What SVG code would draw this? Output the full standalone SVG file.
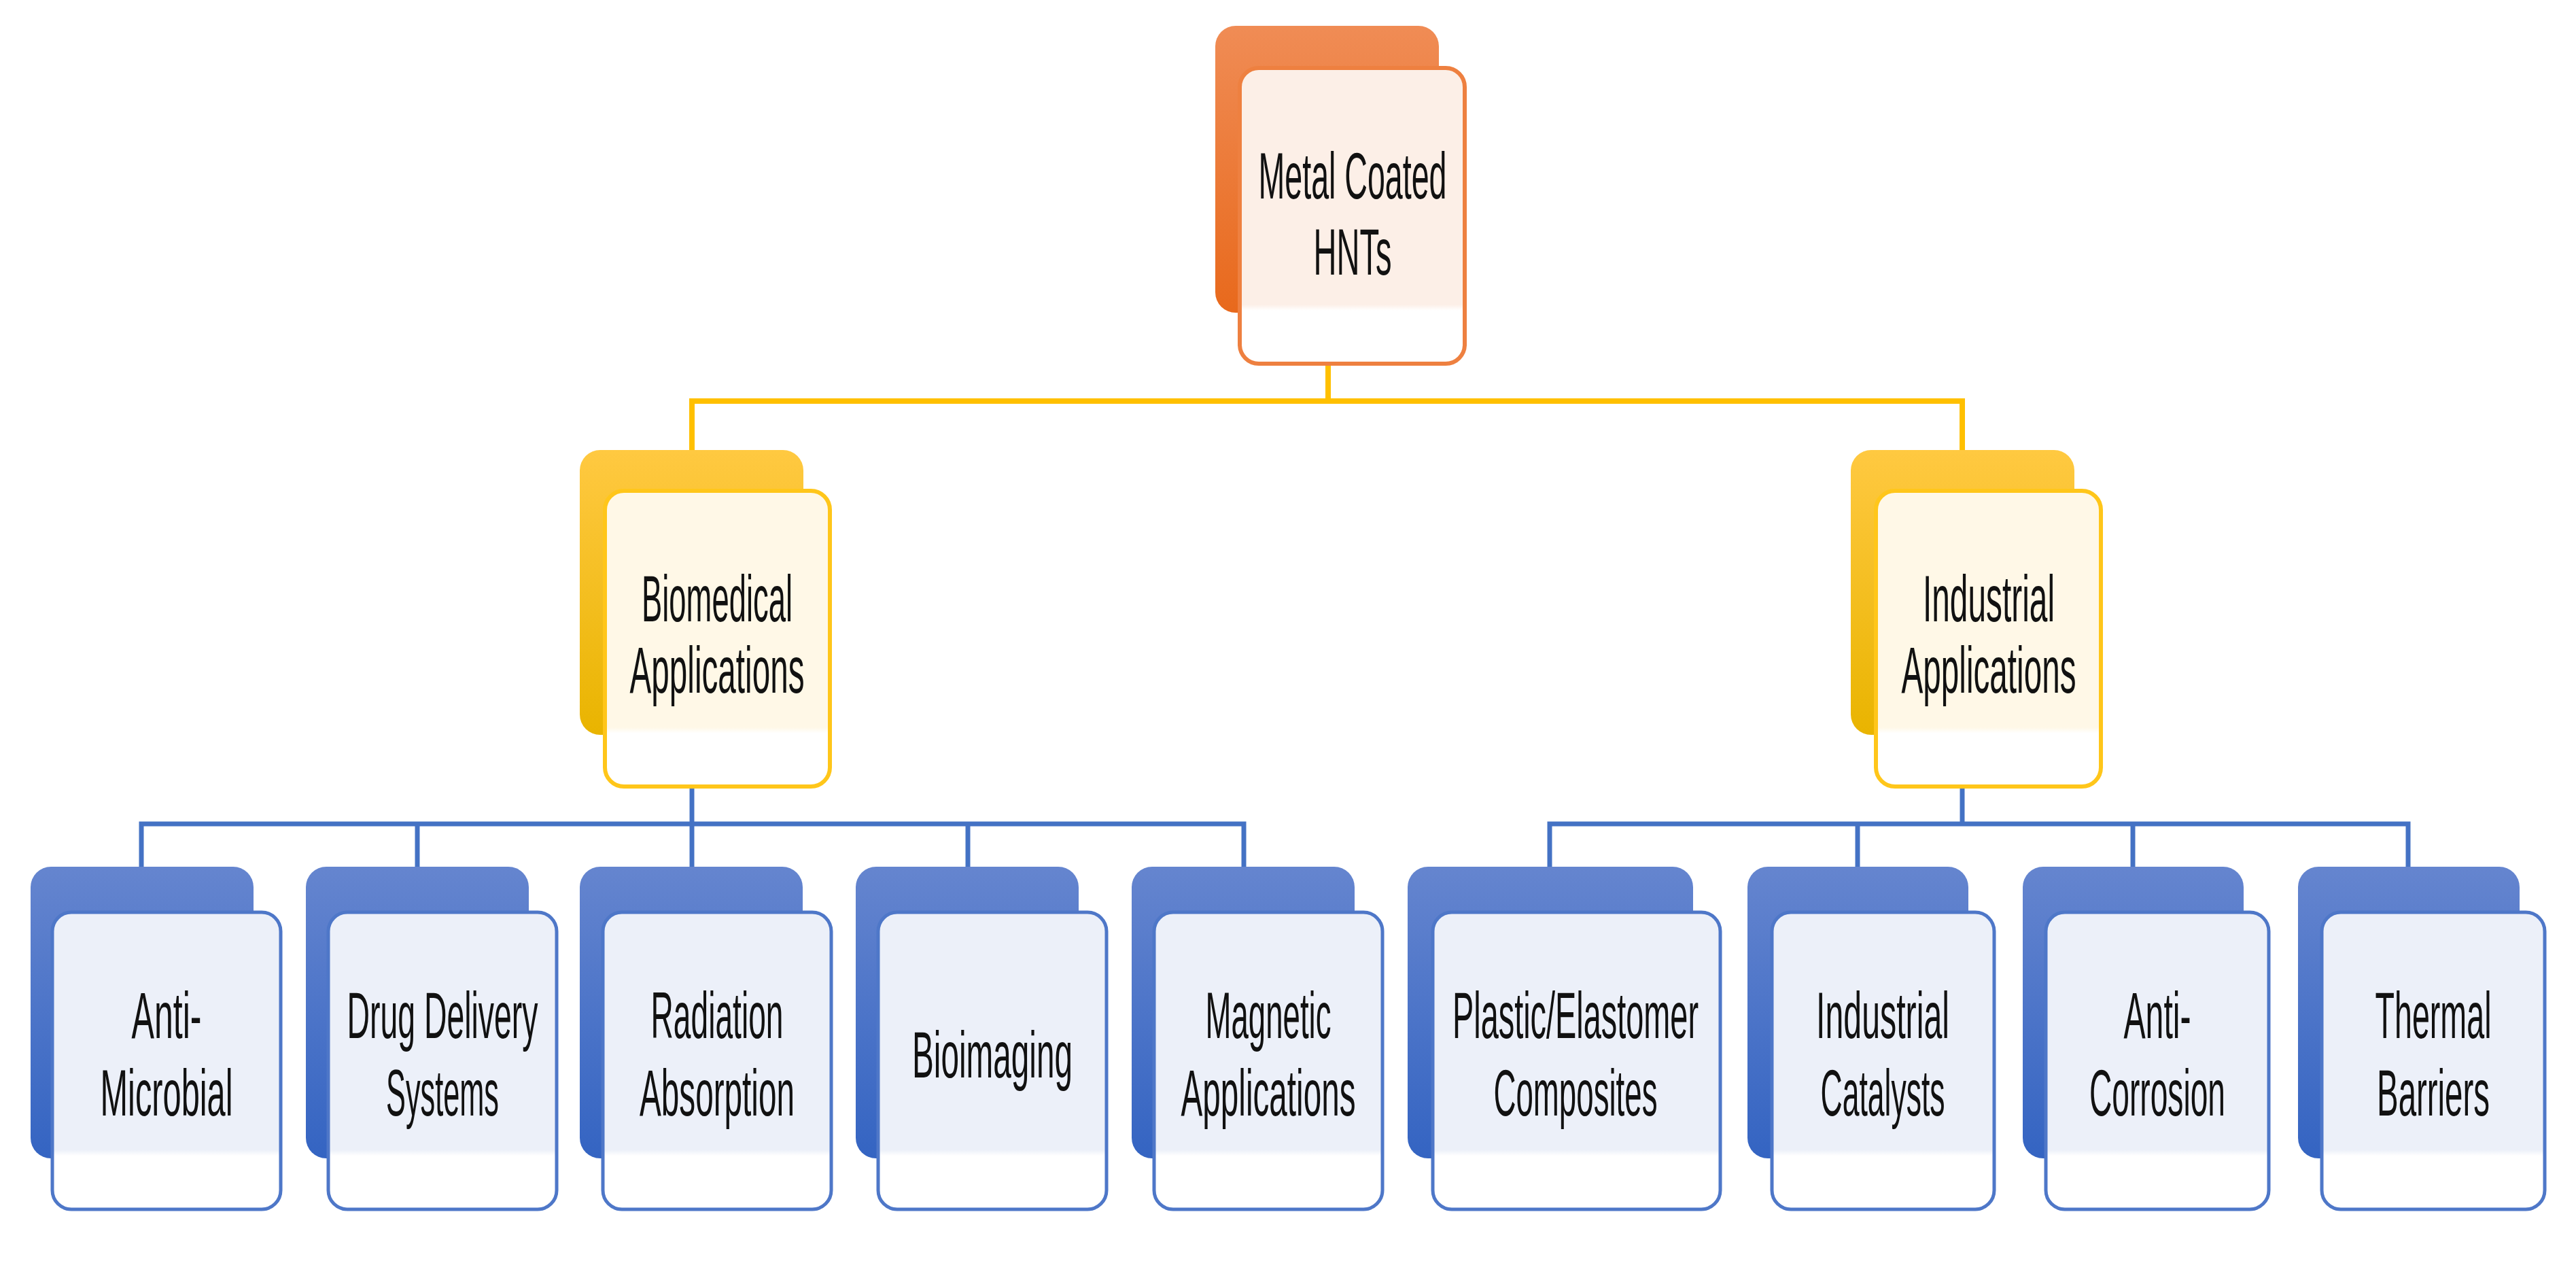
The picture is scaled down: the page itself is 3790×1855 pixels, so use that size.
<svg xmlns="http://www.w3.org/2000/svg" width="3790" height="1855" viewBox="0 0 3790 1855">
<defs>
<linearGradient id="gO" x1="0" y1="0" x2="0" y2="1"><stop offset="0" stop-color="#F08C55"/><stop offset="1" stop-color="#E8691C"/></linearGradient>
<linearGradient id="gY" x1="0" y1="0" x2="0" y2="1"><stop offset="0" stop-color="#FFC941"/><stop offset="1" stop-color="#E9B400"/></linearGradient>
<linearGradient id="gB" x1="0" y1="0" x2="0" y2="1"><stop offset="0" stop-color="#6585CF"/><stop offset="1" stop-color="#3464C2"/></linearGradient>
<linearGradient id="fO" x1="0" y1="0" x2="0" y2="1"><stop offset="0" stop-color="#FCEFE7"/><stop offset="0.8" stop-color="#FCEFE7"/><stop offset="0.82" stop-color="#FFFFFF"/></linearGradient>
<linearGradient id="fY" x1="0" y1="0" x2="0" y2="1"><stop offset="0" stop-color="#FFF8E7"/><stop offset="0.8" stop-color="#FFF8E7"/><stop offset="0.82" stop-color="#FFFFFF"/></linearGradient>
<linearGradient id="fB" x1="0" y1="0" x2="0" y2="1"><stop offset="0" stop-color="#ECF0F9"/><stop offset="0.8" stop-color="#ECF0F9"/><stop offset="0.82" stop-color="#FFFFFF"/></linearGradient>
</defs>
<style>
.bo{fill:url(#gO)} .by{fill:url(#gY)} .bb{fill:url(#gB)}
.fo{fill:url(#fO);stroke:#EE8040;stroke-width:6}
.fy{fill:url(#fY);stroke:#FFC61A;stroke-width:6}
.fb{fill:url(#fB);stroke:#4E77C8;stroke-width:5}
text{font-family:"Liberation Sans",Arial,sans-serif;font-size:96px;fill:#111;text-anchor:middle}
.cy{stroke:#FFC000;stroke-width:8;fill:none}
.cb{stroke:#4472C4;stroke-width:7;fill:none}
</style>
<g id="connectors">
<polyline class="cy" points="1954,535 1954,590"/>
<polyline class="cy" points="1018,662 1018,590 2887,590 2887,662"/>
<polyline class="cb" points="1018,1157 1018,1212"/>
<polyline class="cb" points="208,1275 208,1212 1830,1212 1830,1275"/>
<polyline class="cb" points="614,1212 614,1275"/>
<polyline class="cb" points="1424,1212 1424,1275"/>
<polyline class="cb" points="1018,1212 1018,1275"/>
<polyline class="cb" points="2887,1157 2887,1212"/>
<polyline class="cb" points="2280,1275 2280,1212 3543,1212 3543,1275"/>
<polyline class="cb" points="2733,1212 2733,1275"/>
<polyline class="cb" points="3138,1212 3138,1275"/>
</g>
<g id="root">
<rect class="bo" x="1788" y="38" width="329" height="422" rx="30"/>
<rect class="fo" x="1824" y="100" width="331" height="435" rx="28"/>
<text x="1990" y="292" textLength="277" lengthAdjust="spacingAndGlyphs">Metal Coated</text>
<text x="1990" y="404" textLength="115" lengthAdjust="spacingAndGlyphs">HNTs</text>
</g>
<g id="biomedical">
<rect class="by" x="853" y="662" width="329" height="419" rx="30"/>
<rect class="fy" x="890" y="722" width="331" height="435" rx="28"/>
<text x="1055" y="914" textLength="222" lengthAdjust="spacingAndGlyphs">Biomedical</text>
<text x="1055" y="1019" textLength="257" lengthAdjust="spacingAndGlyphs">Applications</text>
</g>
<g id="industrial">
<rect class="by" x="2723" y="662" width="329" height="419" rx="30"/>
<rect class="fy" x="2760" y="722" width="331" height="435" rx="28"/>
<text x="2926" y="914" textLength="194" lengthAdjust="spacingAndGlyphs">Industrial</text>
<text x="2926" y="1019" textLength="257" lengthAdjust="spacingAndGlyphs">Applications</text>
</g>
<g id="antimicrobial">
<rect class="bb" x="45" y="1275" width="328" height="429" rx="30"/>
<rect class="fb" x="77" y="1342" width="336" height="437" rx="28"/>
<text x="245" y="1527" textLength="103" lengthAdjust="spacingAndGlyphs">Anti-</text>
<text x="245" y="1641" textLength="195" lengthAdjust="spacingAndGlyphs">Microbial</text>
</g>
<g id="drug">
<rect class="bb" x="450" y="1275" width="328" height="429" rx="30"/>
<rect class="fb" x="483" y="1342" width="336" height="437" rx="28"/>
<text x="651" y="1527" textLength="281" lengthAdjust="spacingAndGlyphs">Drug Delivery</text>
<text x="651" y="1641" textLength="166" lengthAdjust="spacingAndGlyphs">Systems</text>
</g>
<g id="radiation">
<rect class="bb" x="853" y="1275" width="328" height="429" rx="30"/>
<rect class="fb" x="887" y="1342" width="336" height="437" rx="28"/>
<text x="1055" y="1527" textLength="195" lengthAdjust="spacingAndGlyphs">Radiation</text>
<text x="1055" y="1641" textLength="228" lengthAdjust="spacingAndGlyphs">Absorption</text>
</g>
<g id="bioimaging">
<rect class="bb" x="1259" y="1275" width="328" height="429" rx="30"/>
<rect class="fb" x="1292" y="1342" width="336" height="437" rx="28"/>
<text x="1460" y="1585" textLength="236" lengthAdjust="spacingAndGlyphs">Bioimaging</text>
</g>
<g id="magnetic">
<rect class="bb" x="1665" y="1275" width="328" height="429" rx="30"/>
<rect class="fb" x="1698" y="1342" width="336" height="437" rx="28"/>
<text x="1866" y="1527" textLength="185" lengthAdjust="spacingAndGlyphs">Magnetic</text>
<text x="1866" y="1641" textLength="257" lengthAdjust="spacingAndGlyphs">Applications</text>
</g>
<g id="plastic">
<rect class="bb" x="2071" y="1275" width="420" height="429" rx="30"/>
<rect class="fb" x="2108" y="1342" width="423" height="437" rx="28"/>
<text x="2318" y="1527" textLength="362" lengthAdjust="spacingAndGlyphs">Plastic/Elastomer</text>
<text x="2318" y="1641" textLength="241" lengthAdjust="spacingAndGlyphs">Composites</text>
</g>
<g id="catalysts">
<rect class="bb" x="2571" y="1275" width="325" height="429" rx="30"/>
<rect class="fb" x="2607" y="1342" width="327" height="437" rx="28"/>
<text x="2770" y="1527" textLength="196" lengthAdjust="spacingAndGlyphs">Industrial</text>
<text x="2770" y="1641" textLength="183" lengthAdjust="spacingAndGlyphs">Catalysts</text>
</g>
<g id="anticorrosion">
<rect class="bb" x="2976" y="1275" width="325" height="429" rx="30"/>
<rect class="fb" x="3010" y="1342" width="328" height="437" rx="28"/>
<text x="3174" y="1527" textLength="99" lengthAdjust="spacingAndGlyphs">Anti-</text>
<text x="3174" y="1641" textLength="200" lengthAdjust="spacingAndGlyphs">Corrosion</text>
</g>
<g id="thermal">
<rect class="bb" x="3381" y="1275" width="326" height="429" rx="30"/>
<rect class="fb" x="3416" y="1342" width="328" height="437" rx="28"/>
<text x="3580" y="1527" textLength="171" lengthAdjust="spacingAndGlyphs">Thermal</text>
<text x="3580" y="1641" textLength="166" lengthAdjust="spacingAndGlyphs">Barriers</text>
</g>
</svg>
